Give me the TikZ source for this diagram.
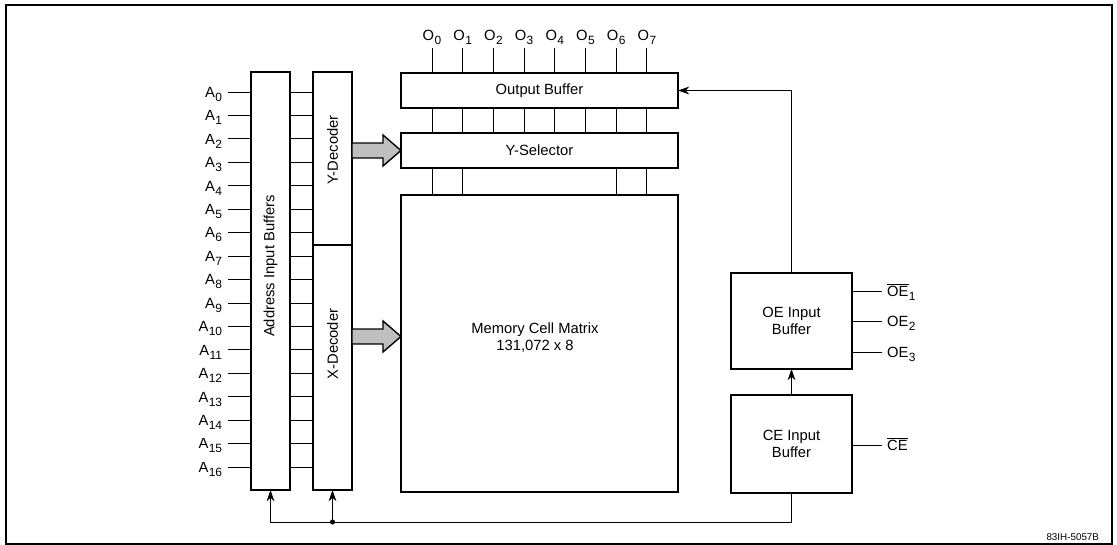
\documentclass[tikz,border=0pt]{standalone}
\usepackage{fontspec}
\setmainfont{Liberation Sans}
\usepackage{tikz}
\usetikzlibrary{arrows.meta,positioning,calc}
\newcommand{\pinsub}[2]{#1\kern0.3pt\raisebox{-2.8pt}{\fontsize{8.5}{9}\selectfont #2}}
\newcommand{\barsig}[1]{$\overline{\mbox{#1}}$}

\begin{document}
\begin{tikzpicture}[x=0.025cm,y=-0.025cm,font=\fontsize{10.5}{12}\selectfont,
  >={Stealth[length=8pt,width=5.5pt]},
  blk/.style={draw,line width=1.3pt,inner sep=0pt,outer sep=0pt},
  wire/.style={line width=0.6pt},
  apin/.style={anchor=east,inner xsep=4pt,inner ysep=0pt,text height=7.6pt,text depth=0pt},
  opin/.style={anchor=south,inner xsep=0pt,inner ysep=2pt},
  epin/.style={anchor=west,inner xsep=3.5pt,inner ysep=0pt,text height=7.6pt,text depth=0pt},
  fat/.style={draw,line width=1pt,fill=black!25,line join=miter}]
  \useasboundingbox (0,0) rectangle (1117,545);
  \draw[line width=0.8pt] (6,5) rectangle (1112,544);

  % address side
  \node[blk,minimum width=0.975cm,minimum height=10.45cm] (addr) at (270.5,281) {};
  \node[blk,minimum width=0.975cm,minimum height=4.325cm] (ydec) at (332.5,158.5) {};
  \node[blk,minimum width=0.975cm,minimum height=6.125cm] (xdec) at (332.5,367.5) {};
  \node[rotate=90] (addrtxt) at (270.5,266) {Address Input Buffers};
  \node[rotate=90] (ydectxt) at (332.5,150) {Y-Decoder};
  \node[rotate=90] (xdectxt) at (332.5,344) {X-Decoder};
  \foreach \i in {0,...,16}{
    \node[apin] (a\i) at (228,{92+23.44*\i}) {\pinsub{A}{\i}};
    \draw[wire] (a\i.east) -- (a\i.east -| addr.west);
    \draw[wire] (a\i.east -| addr.east) -- (a\i.east -| ydec.west);
  }

  % memory side
  \node[blk,minimum width=6.925cm,minimum height=0.875cm] (obuf) at (539.5,90.5) {Output Buffer};
  \node[blk,minimum width=6.925cm,minimum height=0.875cm] (ysel) at (539.5,150.5) {Y-Selector};
  \node[blk,minimum width=6.925cm,minimum height=7.425cm] (mem) at (539.5,343.5) {};
  \node[align=center] (memtxt) at (535,338) {Memory Cell Matrix\\131,072 x 8};
  \foreach \i in {0,...,7}{
    \node[opin] (o\i) at ({432+30.7*\i},48) {\pinsub{O}{\i}};
    \draw[wire] (o\i.south) -- (o\i.south |- obuf.north);
    \draw[wire] (o\i.south |- obuf.south) -- (o\i.south |- ysel.north);
  }
  \foreach \i in {0,1,6,7}
    \draw[wire] (o\i.south |- ysel.south) -- (o\i.south |- mem.north);

  % decoder outputs
  \draw[fat] (ydec.east |- ysel.west) ++(0,-7.5) -- ++(31,0) -- ++(0,-8) -- (ysel.west)
    -- ++(-18,15.5) -- ++(0,-8) -- ++(-31,0) -- cycle;
  \coordinate (xtip) at ($(mem.west)+(0,-7)$);
  \draw[fat] (xdec.east |- xtip) ++(0,-7.5) -- ++(31,0) -- ++(0,-8) -- (xtip)
    -- ++(-18,15.5) -- ++(0,-8) -- ++(-31,0) -- cycle;

  % control
  \node[blk,minimum width=3.025cm,minimum height=2.4cm,align=center] (oebuf) at (791.5,321) {OE Input\\Buffer};
  \node[blk,minimum width=3.025cm,minimum height=2.45cm,align=center] (cebuf) at (791.5,444) {CE Input\\Buffer};
  \node[epin] (oe1) at (882,291) {\pinsub{\barsig{OE}}{1}};
  \node[epin] (oe2) at (882,321) {\pinsub{OE}{2}};
  \node[epin] (oe3) at (882,352) {\pinsub{OE}{3}};
  \node[epin] (ce) at (882,445) {\barsig{CE}};
  \foreach \p in {oe1,oe2,oe3,ce}
    \draw[wire] (\p.west -| oebuf.east) -- (\p.west);
  \draw[wire,->] (cebuf.north) -- (oebuf.south);
  \draw[wire,->] (oebuf.north) |- (obuf.east);
  \coordinate (fb) at (332.5,522);
  \draw[wire] (cebuf.south) |- (fb);
  \draw[wire,->] (fb) -| (addr.south);
  \draw[wire,->] (fb) -- (xdec.south);
  \fill (fb) circle (1.8pt);

  \node[font=\fontsize{7}{8}\selectfont,anchor=east] (figid) at (1104,537) {83IH-5057B};
\end{tikzpicture}
\end{document}
